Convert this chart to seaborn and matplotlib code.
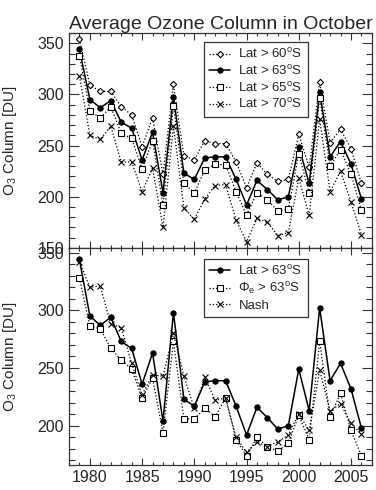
import matplotlib
matplotlib.use('Agg')
import matplotlib.pyplot as plt
import seaborn as sns
import pandas as pd
from matplotlib.ticker import MultipleLocator

years = list(range(1979, 2007))

# top panel
lat60 = [354, 309, 303, 303, 288, 280, 249, 277, 222, 310, 240, 236, 255, 252,
         252, 234, 209, 233, 222, 215, 217, 261, 229, 312, 253, 266, 247, 213]
lat63 = [344, 295, 287, 294, 273, 267, 236, 263, 204, 298, 223, 217, 238, 239,
         239, 217, 192, 216, 207, 197, 200, 249, 213, 302, 239, 254, 232, 198]
lat65 = [338, 284, 277, 288, 262, 257, 227, 255, 192, 289, 213, 204, 226, 232,
         231, 205, 182, 204, 197, 186, 188, 242, 204, 297, 230, 246, 222, 187]
lat70 = [318, 260, 256, 269, 234, 234, 205, 228, 170, 269, 189, 178, 198, 211,
         212, 177, 156, 179, 175, 162, 165, 218, 182, 276, 205, 225, 195, 163]

# bottom panel
phie63 = [328, 286, 284, 267, 257, 249, 224, 241, 194, 273, 206, 206, 215, 208,
          224, 188, 174, 190, 182, 178, 185, 209, 188, 273, 208, 228, 196, 174]
nash = [342, 320, 321, 288, 285, 254, 227, 244, 243, 280, 243, 215, 242, 222,
        224, 190, 177, 186, 182, 186, 192, 210, 196, 248, 213, 219, 202, 193]

df = pd.DataFrame({'year': years, 'lat60': lat60, 'lat63': lat63, 'lat65': lat65,
                   'lat70': lat70, 'phie63': phie63, 'nash': nash})

sns.set_style('ticks')
plt.rcParams['font.family'] = ['Liberation Sans', 'DejaVu Sans']
plt.rcParams['mathtext.fontset'] = 'custom'
plt.rcParams['mathtext.rm'] = 'Liberation Sans'
plt.rcParams['mathtext.it'] = 'Liberation Sans:italic'

fig = plt.figure(figsize=(3.76, 4.90), dpi=100)
ax1 = fig.add_axes([0.1835, 0.494, 0.8055, 0.4385])
ax2 = fig.add_axes([0.1835, 0.051, 0.8055, 0.443], sharex=ax1)

dot = dict(color='black', lw=0.9, linestyle=':')
sns.lineplot(data=df, x='year', y='lat60', ax=ax1, marker='D', ms=3.2, mfc='white',
             mec='black', mew=0.8, label='Lat > 60$^{\\rm o}$S', **dot)
sns.lineplot(data=df, x='year', y='lat63', ax=ax1, marker='o', ms=3.8, color='black',
             lw=1.1, mec='black', label='Lat > 63$^{\\rm o}$S')
sns.lineplot(data=df, x='year', y='lat65', ax=ax1, marker='s', ms=5, mfc='white',
             mec='black', mew=0.8, label='Lat > 65$^{\\rm o}$S', **dot)
sns.lineplot(data=df, x='year', y='lat70', ax=ax1, marker='x', ms=4, mec='black',
             mew=0.8, label='Lat > 70$^{\\rm o}$S', **dot)

sns.lineplot(data=df, x='year', y='lat63', ax=ax2, marker='o', ms=3.8, color='black',
             lw=1.1, mec='black', label='Lat > 63$^{\\rm o}$S')
sns.lineplot(data=df, x='year', y='phie63', ax=ax2, marker='s', ms=5, mfc='white',
             mec='black', mew=0.8, label='$\\Phi_{\\rm e}$ > 63$^{\\rm o}$S', **dot)
sns.lineplot(data=df, x='year', y='nash', ax=ax2, marker='x', ms=4, mec='black',
             mew=0.8, label='Nash', **dot)

ax1.set_xlim(1978, 2007)
ax1.set_ylim(150, 360)
ax2.set_ylim(166, 354)

ax1.set_title('Average Ozone Column in October', fontsize=14, pad=3)

for ax in (ax1, ax2):
    ax.set_xlabel('')
    ax.set_ylabel('O$_3$ Column [DU]', fontsize=11)
    ax.xaxis.set_major_locator(MultipleLocator(5))
    ax.xaxis.set_minor_locator(MultipleLocator(1))
    ax.yaxis.set_major_locator(MultipleLocator(50))
    ax.yaxis.set_minor_locator(MultipleLocator(10))
    ax.tick_params(which='both', direction='in', top=True, right=True,
                   labelsize=11.5, color='#333333', width=0.8)
    ax.tick_params(axis='x', which='major', length=5)
    ax.tick_params(axis='x', which='minor', length=2.5)
    ax.tick_params(axis='y', which='major', length=7)
    ax.tick_params(axis='y', which='minor', length=4)
    for s in ax.spines.values():
        s.set_linewidth(0.9)
        s.set_color('#333333')
    ax.legend(loc='upper left', fontsize=9.5, frameon=True, fancybox=False,
              edgecolor='#333333', framealpha=1, borderaxespad=0,
              handlelength=1.6, handletextpad=0.6, labelspacing=0.2,
              borderpad=0.4)

ax1.get_legend().set_bbox_to_anchor((0.446, 0.958))
ax2.get_legend().set_bbox_to_anchor((0.446, 0.95))
ax1.get_legend().get_frame().set_linewidth(0.9)
ax2.get_legend().get_frame().set_linewidth(0.9)
ax1.tick_params(axis='x', labelbottom=False)
ax1.yaxis.set_label_coords(-0.165, 0.5)
ax2.yaxis.set_label_coords(-0.165, 0.5)

fig.savefig('out.png', dpi=100)
